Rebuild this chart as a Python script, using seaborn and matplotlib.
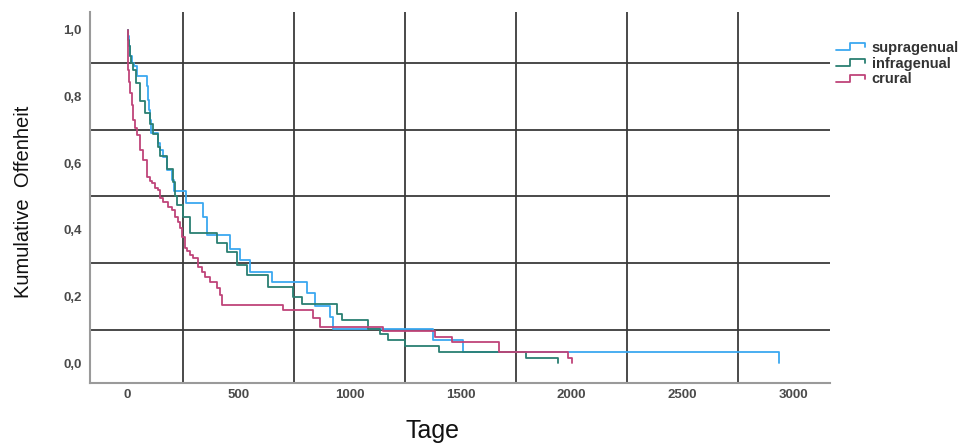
import numpy as np
import pandas as pd
import matplotlib
matplotlib.use("Agg")
import matplotlib.pyplot as plt
import seaborn as sns
from matplotlib.lines import Line2D
from matplotlib.legend_handler import HandlerBase
from matplotlib.ticker import FuncFormatter
from matplotlib import font_manager as fm

# Kaplan-Meier step curves: time in days and cumulative patency after each step
groups = ["supragenual", "infragenual", "crural"]

tage_supragenual = [0, 2, 6, 11, 20, 29, 42, 88, 92, 97, 101, 106, 137, 146, 160, 178,
                    200, 209, 263, 340, 358, 462, 507, 552, 651, 809, 845, 913, 926,
                    1377, 1513, 2933]
offen_supragenual = [1.0, 0.98, 0.95, 0.92, 0.90, 0.89, 0.861, 0.83, 0.79, 0.76, 0.73,
                     0.69, 0.66, 0.64, 0.618, 0.579, 0.55, 0.517, 0.481, 0.439, 0.385,
                     0.343, 0.310, 0.274, 0.244, 0.211, 0.171, 0.14, 0.104, 0.070,
                     0.034, 0.0]

tage_infragenual = [0, 3, 6, 10, 15, 24, 38, 56, 78, 101, 115, 137, 146, 178, 205, 214,
                    223, 250, 281, 403, 448, 493, 538, 633, 746, 786, 944, 967, 1084,
                    1138, 1174, 1251, 1405, 1797, 1937]
offen_infragenual = [1.0, 0.97, 0.95, 0.92, 0.90, 0.88, 0.84, 0.785, 0.75, 0.716, 0.686,
                     0.647, 0.62, 0.581, 0.542, 0.50, 0.475, 0.44, 0.392, 0.362, 0.335,
                     0.296, 0.266, 0.23, 0.20, 0.177, 0.147, 0.129, 0.103, 0.087, 0.069,
                     0.051, 0.034, 0.016, 0.0]

tage_crural = [0, 1, 3, 6, 11, 20, 24, 33, 42, 56, 69, 88, 101, 110, 124, 137, 146, 160,
               182, 200, 214, 227, 236, 245, 259, 268, 281, 295, 318, 336, 349, 372, 403,
               417, 426, 701, 836, 868, 1152, 1387, 1463, 1675, 1982, 2004]
offen_crural = [1.0, 0.933, 0.879, 0.843, 0.810, 0.774, 0.729, 0.706, 0.685, 0.639, 0.609,
                0.559, 0.547, 0.541, 0.526, 0.520, 0.496, 0.484, 0.469, 0.460, 0.439,
                0.424, 0.406, 0.379, 0.346, 0.337, 0.325, 0.316, 0.289, 0.274, 0.259,
                0.244, 0.226, 0.205, 0.175, 0.160, 0.136, 0.109, 0.097, 0.079, 0.064,
                0.034, 0.016, 0.0]

x_ticks = [0, 500, 1000, 1500, 2000, 2500, 3000]
y_ticks = [0.0, 0.2, 0.4, 0.6, 0.8, 1.0]
x_grid = [250, 750, 1250, 1750, 2250, 2750]
y_grid = [0.1, 0.3, 0.5, 0.7, 0.9]

palette = {"supragenual": "#3ba8f0", "infragenual": "#2a7f72", "crural": "#bf4479"}

df = pd.concat([
    pd.DataFrame({"Tage": tage_supragenual, "Offenheit": offen_supragenual, "Gruppe": "supragenual"}),
    pd.DataFrame({"Tage": tage_infragenual, "Offenheit": offen_infragenual, "Gruppe": "infragenual"}),
    pd.DataFrame({"Tage": tage_crural, "Offenheit": offen_crural, "Gruppe": "crural"}),
], ignore_index=True)

sns.set_style("white")
available = {f.name for f in fm.fontManager.ttflist}
base_font = "Liberation Sans" if "Liberation Sans" in available else "DejaVu Sans"
plt.rcParams["font.family"] = [base_font, "DejaVu Sans"]

fig = plt.figure(figsize=(9.6, 4.46), dpi=100)
ax = fig.add_axes([0.09375, 0.1413, 0.7708, 0.8318])

sns.lineplot(data=df, x="Tage", y="Offenheit", hue="Gruppe", hue_order=groups,
             palette=palette, estimator=None, sort=False, drawstyle="steps-post",
             linewidth=1.3, legend=False, ax=ax)

ax.set_xlim(-169, 3164)
ax.set_ylim(-0.059, 1.053)
ax.set_xticks(x_ticks)
ax.set_yticks(y_ticks)
ax.set_xticks(x_grid, minor=True)
ax.set_yticks(y_grid, minor=True)
ax.yaxis.set_major_formatter(FuncFormatter(lambda v, p: f"{v:.1f}".replace(".", ",")))
ax.xaxis.set_major_formatter(FuncFormatter(lambda v, p: f"{int(v)}"))
ax.grid(False)
ax.grid(which="minor", color="#3a3a3a", linewidth=1.3)
ax.set_axisbelow(True)
ax.tick_params(which="both", length=0)
ax.tick_params(axis="y", which="major", pad=6, labelsize=9.5, labelcolor="#4a4a4a")
ax.tick_params(axis="x", which="major", pad=4, labelsize=9.5, labelcolor="#4a4a4a")
for lab in ax.get_xticklabels() + ax.get_yticklabels():
    lab.set_fontweight("bold")

sns.despine(ax=ax, top=True, right=True)
for side in ("left", "bottom"):
    ax.spines[side].set_color("#9a9a9a")
    ax.spines[side].set_linewidth(1.5)

ax.set_xlabel("Tage", fontsize=18, color="#111111")
ax.xaxis.set_label_coords(0.4635, -0.098)
ax.set_ylabel("Kumulative  Offenheit", fontsize=14.5, color="#111111")
ax.yaxis.set_label_coords(-0.077, 0.487)


class StepHandler(HandlerBase):
    def create_artists(self, legend, orig_handle, xdescent, ydescent, width, height,
                       fontsize, trans):
        xs = np.array([0.0, 0.45, 0.45, 0.95, 0.95]) * width - xdescent
        ys = np.array([0.15, 0.15, 0.85, 0.85, 0.45]) * height - ydescent
        line = Line2D(xs, ys, color=orig_handle.get_color(),
                      linewidth=orig_handle.get_linewidth())
        line.set_transform(trans)
        return [line]


handles = [Line2D([], [], color=palette[g], linewidth=1.3) for g in groups]
leg = ax.legend(handles, groups, handler_map={Line2D: StepHandler()},
                loc="upper left", bbox_to_anchor=(1.008, 0.922), frameon=False,
                borderaxespad=0, borderpad=0, handlelength=2.1, handletextpad=0.35,
                labelspacing=0.12, prop={"size": 10.5, "weight": "bold"})
for t in leg.get_texts():
    t.set_color("#333333")

fig.savefig("out.png", dpi=100)
